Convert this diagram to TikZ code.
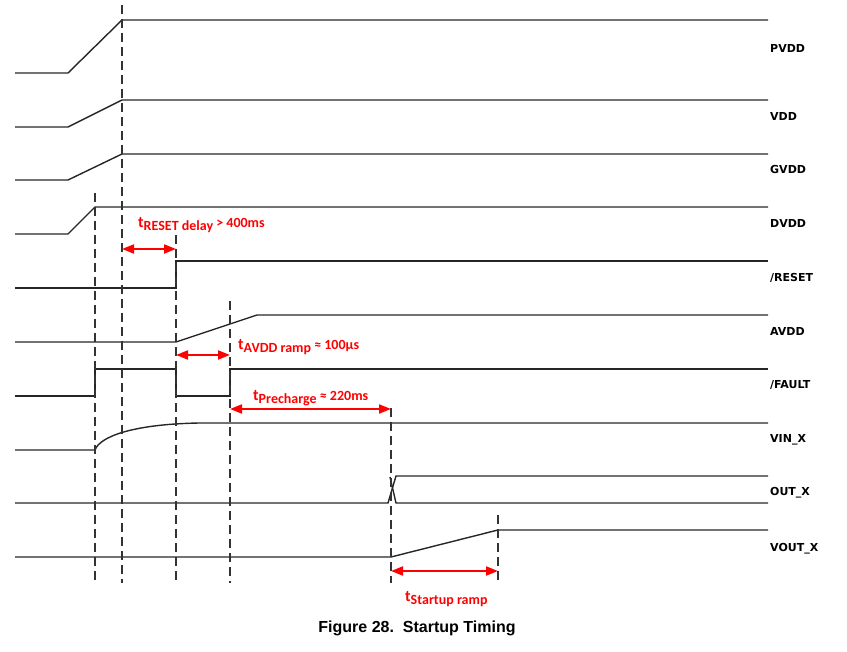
\documentclass[tikz,border=0pt]{standalone}
\usepackage{fontspec}
\usetikzlibrary{arrows.meta}
\newfontfamily\sigfont{DejaVu Sans}
\newfontfamily\redfont{Carlito}
\newfontfamily\capfont{Liberation Sans}
\newcommand\tsub[2]{{\fontsize{16}{16}\selectfont t}\raisebox{-3pt}{#1}#2}

\begin{document}
\begin{tikzpicture}[x=1pt,y=-1pt,
  sig/.style={line width=1.4pt,black!85},
  guide/.style={line width=1.2pt,black!80,dash pattern=on 9pt off 5pt},
  dim/.style={red,line width=1.8pt,{Triangle[length=12pt,width=9pt]}-{Triangle[length=12pt,width=9pt]}},
  siglabel/.style={anchor=base west,inner sep=0pt,font=\sigfont\bfseries\fontsize{11}{11}\selectfont},
  timelabel/.style={anchor=base west,inner sep=0pt,text=red,font=\redfont\bfseries\fontsize{14}{14}\selectfont}]
  \useasboundingbox (0,0) rectangle (847,652);
  % supply rails
  \draw[sig] (15,73)--(68,73)--(122,20)--(768,20);
  \draw[sig] (15,127)--(68,127)--(122,100)--(768,100);
  \draw[sig] (15,180)--(68,180)--(122,154)--(768,154);
  \draw[sig] (15,234)--(68,234)--(95,207)--(768,207);
  \draw[sig] (15,288)--(176,288)--(176,261)--(768,261);
  \draw[sig] (15,342)--(176,342)--(257,315)--(768,315);
  \draw[sig] (15,396)--(95,396)--(95,369)--(176,369)--(176,396)--(230,396)--(230,369)--(768,369);
  \draw[sig] (15,450)--(95,450) .. controls (100,436) and (135,424) .. (200,423)--(768,423);
  \draw[sig] (15,503)--(388,503)--(396,476)--(768,476);
  \draw[sig] (390,477)--(396,503)--(768,503);
  \draw[sig] (15,557)--(391,557)--(498,530)--(768,530);
  % timing marks
  \draw[guide] (122,5)--(122,583);
  \draw[guide] (95,193)--(95,583);
  \draw[guide] (176,235)--(176,583);
  \draw[guide] (230,301)--(230,583);
  \draw[guide] (391,408)--(391,583);
  \draw[guide] (498,515)--(498,583);
  \coordinate (rst0) at (122,249);
  \coordinate (rst1) at (176,249);
  \coordinate (avdd0) at (176,355);
  \coordinate (avdd1) at (230,355);
  \coordinate (pre0) at (230,409);
  \coordinate (pre1) at (391,409);
  \coordinate (ramp0) at (391,571);
  \coordinate (ramp1) at (498,571);
  \draw[dim] (rst0)--(rst1);
  \draw[dim] (avdd0)--(avdd1);
  \draw[dim] (pre0)--(pre1);
  \draw[dim] (ramp0)--(ramp1);
  \node[timelabel] (trst) at (138,228) {\tsub{RESET delay}{ > 400ms}};
  \node[timelabel] (tavdd) at (238,350) {\tsub{AVDD ramp}{ ≈ 100µs}};
  \node[timelabel] (tpre) at (253,401) {\tsub{Precharge}{ ≈ 220ms}};
  \node[timelabel] (tramp) at (405,601) {\tsub{Startup ramp}{}};
  % signal names
  \node[siglabel] (pvdd) at (770,53) {PVDD};
  \node[siglabel] (vdd) at (770,121) {VDD};
  \node[siglabel] (gvdd) at (770,174) {GVDD};
  \node[siglabel] (dvdd) at (770,228) {DVDD};
  \node[siglabel] (reset) at (770,282) {/RESET};
  \node[siglabel] (avdd) at (770,336) {AVDD};
  \node[siglabel] (fault) at (770,389) {/FAULT};
  \node[siglabel] (vin) at (770,443) {VIN\_X};
  \node[siglabel] (out) at (770,496) {OUT\_X};
  \node[siglabel] (vout) at (770,551) {VOUT\_X};
  \node[anchor=base,inner sep=0pt,font=\capfont\bfseries\fontsize{16}{16}\selectfont] (cap) at (417,632) {Figure 28.\ \ Startup Timing};
\end{tikzpicture}
\end{document}
